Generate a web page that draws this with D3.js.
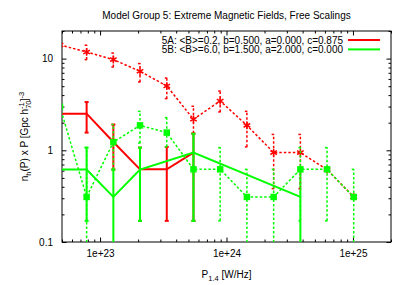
<!DOCTYPE html>
<meta charset="utf-8">
<script src="https://cdn.jsdelivr.net/npm/d3@7"></script>
<style>
body { margin: 0; background: #fff; }
text {
  font-family: "Liberation Sans", Arial, sans-serif;
  font-size: 10px;
  fill: #000;
}
.axis path { stroke: #000; }
.axis line { stroke: #000; }
</style>
<body>
<script>
var width = 407,
    height = 285;

// bin centres (W/Hz)
var bins = [4.82e22, 7.83e22, 1.274e23, 2.07e23, 3.37e23, 5.48e23, 8.91e23,
            1.45e24, 2.36e24, 3.84e24, 6.24e24, 1.014e25];

// dotted red (no key entry)
var redObsIdx = [0, 1, 2, 3, 4, 5, 6, 7, 8, 9, 10, 11];
var redObsVal = [14.1, 11.8, 9.75, 7.27, 5.03, 2.18, 3.45, 1.87, 0.944, 0.944, 0.616, 0.31];
var redObsLo  = [12.0, 9.75, 8.1, 5.56, 3.66, 1.53, 2.62, 1.09, 0.382, 0.382, 0.616, 0.31];
var redObsHi  = [16.5, 14.0, 11.5, 8.82, 6.14, 3.02, 4.43, 2.66, 1.49, 1.49, 0.616, 0.31];

// dotted green (no key entry)
var greenObsIdx = [0, 1, 2, 3, 4, 5, 6, 7, 8, 9, 10, 11];
var greenObsVal = [2.98, 0.31, 1.23, 1.87, 1.56, 0.62, 0.62, 0.31, 0.31, 0.62, 0.62, 0.31];
var greenObsLo  = [2.0, 0.05, 0.616, 1.2, 1.09, 0.17, 0.17, 0.05, 0.05, 0.17, 0.17, 0.05];
var greenObsHi  = [4.0, 1.07, 1.91, 2.66, 2.27, 1.52, 1.07, 0.62, 0.62, 1.07, 1.07, 0.62];

// model 5A (solid red)
var modelAIdx = [0, 1, 2, 3, 4, 5];
var modelAVal = [2.51, 2.51, 1.23, 0.62, 0.62, 0.944];
var modelALo  = [1.56, 1.56, 0.616, 0.17, 0.17, 0.17];
var modelAHi  = [3.36, 3.36, 1.91, 1.07, 1.09, 1.52];

// model 5B (solid green)
var modelBIdx = [0, 1, 2, 3, 5, 9];
var modelBVal = [0.616, 0.616, 0.31, 0.616, 0.944, 0.31];
var modelBLo  = [0.17, 0.17, 0.05, 0.17, 0.17, 0.05];
var modelBHi  = [1.07, 1.07, 0.616, 1.07, 1.52, 0.62];

var keyLabels = ["5A: <B>=0.2, b=0.500, a=0.000, c=0.875",
                 "5B: <B>=6.0, b=1.500, a=2.000, c=0.000"];
var title = "Model Group 5: Extreme Magnetic Fields, Free Scalings";

var xMajor = [1e23, 1e24, 1e25];
var yMajor = [0.1, 1, 10];

var pLeft = 62, pRight = 391, pTop = 31, pBottom = 242;

var x = d3.scaleLog().domain([5e22, 2e25]).range([pLeft, pRight]);
var y = d3.scaleLog().domain([0.1, 20]).range([pBottom, pTop]);

function minorTicks(scale) {
  var d = scale.domain(), out = [];
  var e0 = Math.floor(Math.log10(d[0])), e1 = Math.ceil(Math.log10(d[1]));
  for (var e = e0; e <= e1; e++) {
    for (var k = 2; k <= 9; k++) {
      var v = k * Math.pow(10, e);
      if (v >= d[0] && v <= d[1]) out.push(v);
    }
  }
  return out;
}

var svg = d3.select("body").append("svg")
    .attr("width", width)
    .attr("height", height);

svg.append("defs").append("clipPath").attr("id", "clip")
  .append("rect")
    .attr("x", pLeft).attr("y", pTop)
    .attr("width", pRight - pLeft).attr("height", pBottom - pTop);

// axes (ticks inward, mirrored)
var bigTick = 4.5, smallTick = 2.5;

function noDomain(g) { g.select(".domain").remove(); }
function plainText(g) { g.selectAll("text").style("font-size", "10px").attr("font-family", null).attr("font-size", null); }

svg.append("g").attr("class", "axis")
    .attr("transform", "translate(0," + pBottom + ")")
    .call(d3.axisBottom(x).tickValues(xMajor).tickSize(-bigTick).tickPadding(8)
      .tickFormat(function(d) { return "1e+" + Math.round(Math.log10(d)); }))
    .call(noDomain).call(plainText);
svg.append("g").attr("class", "axis")
    .attr("transform", "translate(0," + pBottom + ")")
    .call(d3.axisBottom(x).tickValues(minorTicks(x)).tickSize(-smallTick).tickFormat(""))
    .call(noDomain);
svg.append("g").attr("class", "axis")
    .attr("transform", "translate(0," + pTop + ")")
    .call(d3.axisTop(x).tickValues(xMajor).tickSize(-bigTick).tickFormat(""))
    .call(noDomain);
svg.append("g").attr("class", "axis")
    .attr("transform", "translate(0," + pTop + ")")
    .call(d3.axisTop(x).tickValues(minorTicks(x)).tickSize(-smallTick).tickFormat(""))
    .call(noDomain);

svg.append("g").attr("class", "axis")
    .attr("transform", "translate(" + pLeft + ",0)")
    .call(d3.axisLeft(y).tickValues(yMajor).tickSize(-bigTick).tickPadding(9)
      .tickFormat(function(d) { return d3.format("~g")(d); }))
    .call(noDomain).call(plainText);
svg.append("g").attr("class", "axis")
    .attr("transform", "translate(" + pLeft + ",0)")
    .call(d3.axisLeft(y).tickValues(minorTicks(y)).tickSize(-smallTick).tickFormat(""))
    .call(noDomain);
svg.append("g").attr("class", "axis")
    .attr("transform", "translate(" + pRight + ",0)")
    .call(d3.axisRight(y).tickValues(yMajor).tickSize(-bigTick).tickFormat(""))
    .call(noDomain);
svg.append("g").attr("class", "axis")
    .attr("transform", "translate(" + pRight + ",0)")
    .call(d3.axisRight(y).tickValues(minorTicks(y)).tickSize(-smallTick).tickFormat(""))
    .call(noDomain);

svg.append("rect")
    .attr("x", pLeft).attr("y", pTop)
    .attr("width", pRight - pLeft).attr("height", pBottom - pTop)
    .attr("fill", "none").attr("stroke", "#000").attr("stroke-width", 1);

// data series
function makeSeries(idx, val, lo, hi) {
  return idx.map(function(k, i) { return {x: bins[k], y: val[i], lo: lo[i], hi: hi[i]}; });
}

var series = [
  {data: makeSeries(modelAIdx, modelAVal, modelALo, modelAHi), color: "#ff0000", dash: null, width: 2, mark: null},
  {data: makeSeries(modelBIdx, modelBVal, modelBLo, modelBHi), color: "#00ff00", dash: null, width: 2, mark: null},
  {data: makeSeries(redObsIdx, redObsVal, redObsLo, redObsHi), color: "#ff0000", dash: "2.5,2", width: 1.5, mark: "star"},
  {data: makeSeries(greenObsIdx, greenObsVal, greenObsLo, greenObsHi), color: "#00ff00", dash: "2.5,2", width: 1.5, mark: "square"}
];

var plot = svg.append("g").attr("clip-path", "url(#clip)");
var line = d3.line().x(function(d) { return x(d.x); }).y(function(d) { return y(d.y); });
var cap = 2;

series.forEach(function(s) {
  var g = plot.append("g")
      .attr("stroke", s.color)
      .attr("stroke-width", s.width)
      .attr("stroke-dasharray", s.dash)
      .attr("fill", "none");

  var eb = g.selectAll("g.err").data(s.data.filter(function(d) { return d.hi > d.lo; }))
    .enter().append("g").attr("class", "err");
  eb.append("line")
      .attr("x1", function(d) { return x(d.x); })
      .attr("x2", function(d) { return x(d.x); })
      .attr("y1", function(d) { return y(d.lo); })
      .attr("y2", function(d) { return y(d.hi); });
  eb.append("line")
      .attr("x1", function(d) { return x(d.x) - cap; })
      .attr("x2", function(d) { return x(d.x) + cap; })
      .attr("y1", function(d) { return y(d.lo); })
      .attr("y2", function(d) { return y(d.lo); });
  eb.append("line")
      .attr("x1", function(d) { return x(d.x) - cap; })
      .attr("x2", function(d) { return x(d.x) + cap; })
      .attr("y1", function(d) { return y(d.hi); })
      .attr("y2", function(d) { return y(d.hi); });

  g.append("path").attr("d", line(s.data));

  if (s.mark === "star") {
    plot.append("g").selectAll("path").data(s.data).enter().append("path")
        .attr("transform", function(d) { return "translate(" + x(d.x) + "," + y(d.y) + ")"; })
        .attr("d", d3.symbol(d3.symbolAsterisk, 40))
        .attr("fill", "none").attr("stroke", s.color).attr("stroke-width", 1.5);
  } else if (s.mark === "square") {
    plot.append("g").selectAll("path").data(s.data).enter().append("path")
        .attr("transform", function(d) { return "translate(" + x(d.x) + "," + y(d.y) + ")"; })
        .attr("d", d3.symbol(d3.symbolSquare, 42))
        .attr("fill", s.color);
  }
});

// key
var key = svg.append("g");
keyLabels.forEach(function(t, i) {
  var yy = 40 + i * 9.4;
  key.append("text")
      .attr("x", 343).attr("y", yy).attr("dy", "0.35em")
      .attr("text-anchor", "end")
      .text(t);
  key.append("line")
      .attr("x1", 348).attr("x2", 380)
      .attr("y1", yy).attr("y2", yy)
      .attr("stroke", i === 0 ? "#ff0000" : "#00ff00")
      .attr("stroke-width", 2);
});

// title
svg.append("text")
    .attr("x", (pLeft + pRight) / 2).attr("y", 19)
    .attr("text-anchor", "middle")
    .text(title);

// x label
var xl = svg.append("text")
    .attr("x", (pLeft + pRight) / 2).attr("y", 278)
    .attr("text-anchor", "middle");
xl.append("tspan").text("P");
xl.append("tspan").attr("dy", 2.5).style("font-size", "7.5px").text("1.4");
xl.append("tspan").attr("dy", -2.5).text(" [W/Hz]");

// y label
var yl = svg.append("text")
    .attr("transform", "translate(28," + ((pTop + pBottom) / 2) + ")rotate(-90)")
    .attr("text-anchor", "middle");
yl.append("tspan").text("n");
yl.append("tspan").attr("dy", 2.5).style("font-size", "7.5px").text("h");
yl.append("tspan").attr("dy", -2.5).text("(P) x P [Gpc h");
yl.append("tspan").attr("dy", 2.5).style("font-size", "7.5px").text("70");
yl.append("tspan").attr("dy", -7).attr("dx", -8.4).style("font-size", "7.5px").text("-1");
yl.append("tspan").attr("dy", 4.5).attr("dx", 1).text("]");
yl.append("tspan").attr("dy", -4.5).style("font-size", "7.5px").text("-3");
</script>
</body>
</html>
